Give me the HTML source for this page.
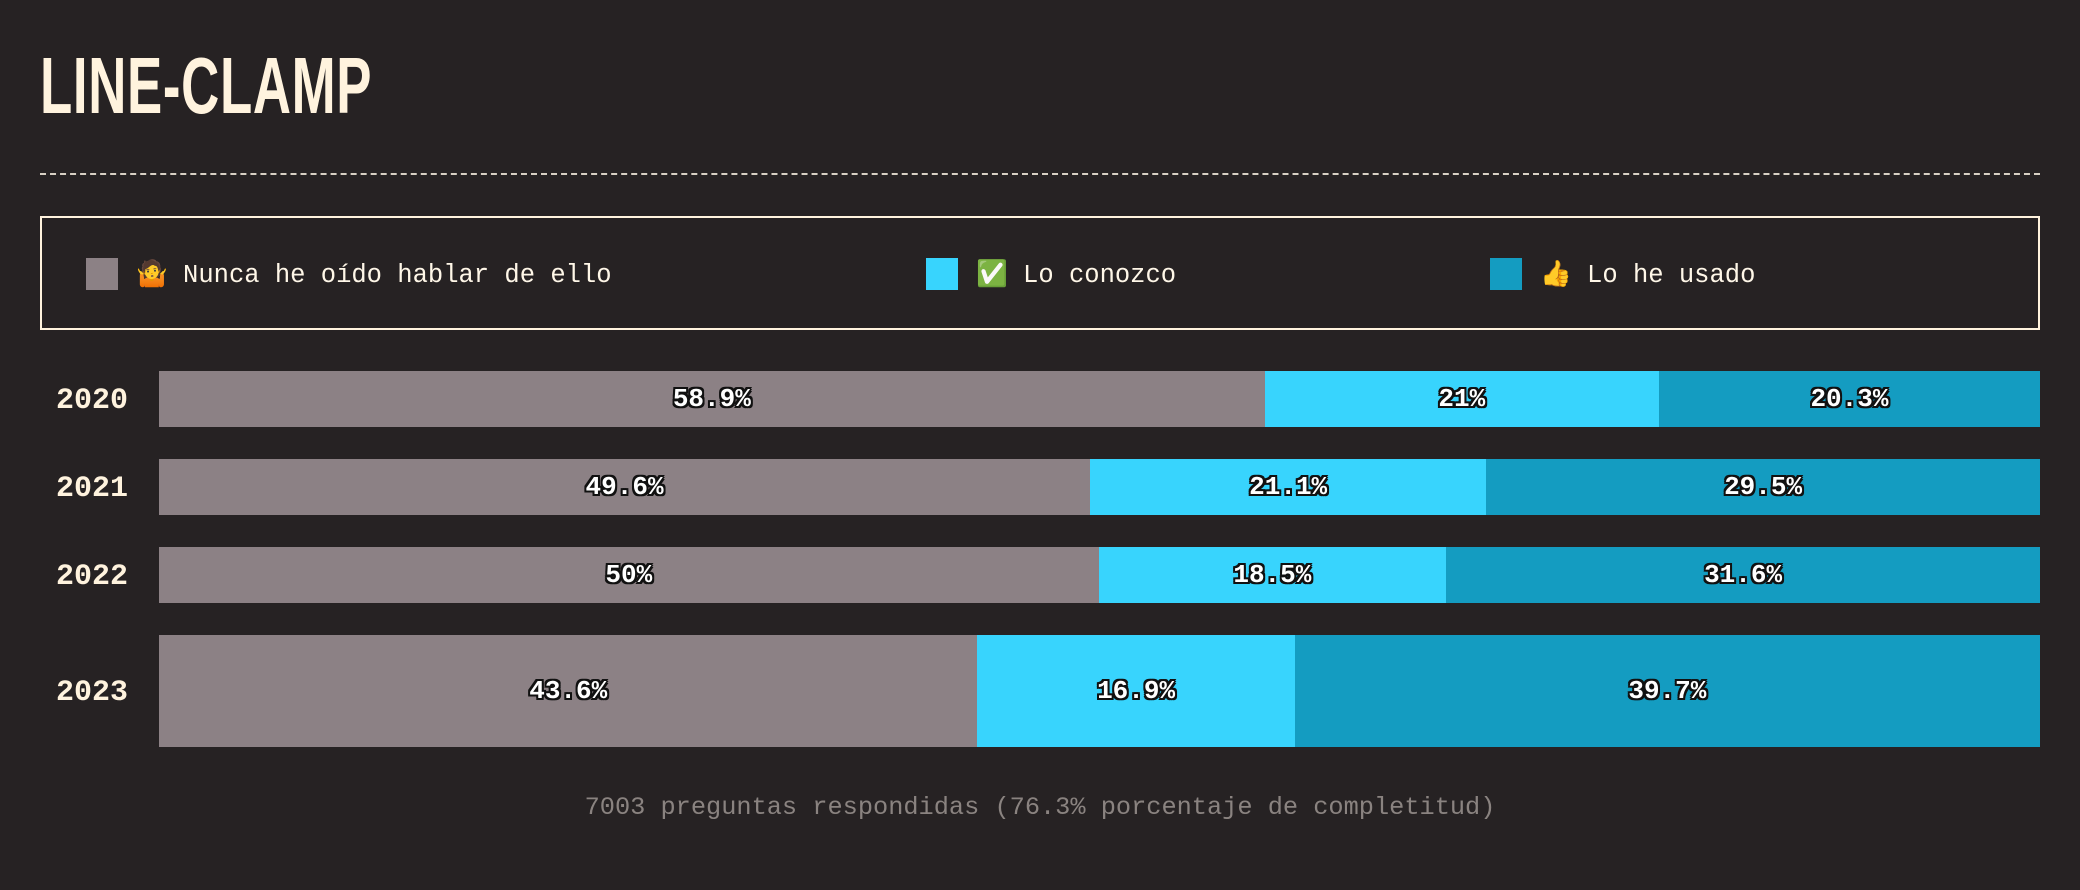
<!DOCTYPE html>
<html><head><meta charset="utf-8"><style>
body{margin:0;width:2080px;height:890px;background:#262223;overflow:hidden;position:relative;font-family:"Liberation Mono",monospace;color:#fff7e8}
#title{position:absolute;left:40px;top:40px;font-family:"Liberation Sans Narrow","Liberation Sans",sans-serif;font-stretch:condensed;font-weight:bold;font-size:80px;letter-spacing:1px;color:#fff3de;transform:scaleX(0.66);transform-origin:left top}
#sep{position:absolute;left:40px;top:173px;width:2000px;border-top:2px dashed #d8d0c4}
#legend{position:absolute;left:40px;top:216px;width:1996px;height:110px;border:2px solid #fff3de}
.li{position:absolute;top:40px;display:flex;align-items:center;font-size:25.5px;white-space:nowrap}
.sw{width:32px;height:32px;margin-right:18px}
.year{position:absolute;left:56px;font-weight:bold;font-size:30px;color:#fff3de}
.seg{position:absolute;display:flex;align-items:center;justify-content:center;font-weight:bold;font-size:26px;color:#fff;text-shadow:-2px -2px 0 #111,2px -2px 0 #111,-2px 2px 0 #111,2px 2px 0 #111,0 2px 0 #111,0 -2px 0 #111,2px 0 0 #111,-2px 0 0 #111}
#foot{position:absolute;left:0;width:2080px;top:793px;text-align:center;font-size:25.3px;color:#8a8380}
</style></head><body>
<div id="title">LINE-CLAMP</div>
<div id="sep"></div>
<div id="legend">
<div class="li" style="left:44px"><div class="sw" style="background:#8c8185"></div>🤷 Nunca he oído hablar de ello</div>
<div class="li" style="left:884px"><div class="sw" style="background:#38d4fd"></div>✅ Lo conozco</div>
<div class="li" style="left:1448px"><div class="sw" style="background:#149cc1"></div>👍 Lo he usado</div>
</div>
<div id="chart"></div>
<div id="foot">7003 preguntas respondidas (76.3% porcentaje de completitud)</div>
<script>
const years=["2020","2021","2022","2023"];
const neverHeard=[58.9,49.6,50,43.6];
const knowIt=[21,21.1,18.5,16.9];
const usedIt=[20.3,29.5,31.6,39.7];
const labelsNever=["58.9%","49.6%","50%","43.6%"];
const labelsKnow=["21%","21.1%","18.5%","16.9%"];
const labelsUsed=["20.3%","29.5%","31.6%","39.7%"];
const colors=["#8c8185","#38d4fd","#149cc1"];
const x0=159,W=1881;
const rows=[[371,56],[459,56],[547,56],[635,112]];
const chart=document.getElementById('chart');
function xs(v,total){return v/total*W;}
years.forEach((y,i)=>{
  const [top,h]=rows[i];
  const yl=document.createElement('div');
  yl.className='year';yl.textContent=y;
  yl.style.top=(top+h/2-15)+'px';
  
  
  chart.appendChild(yl);
  const vals=[neverHeard[i],knowIt[i],usedIt[i]];
  const labs=[labelsNever[i],labelsKnow[i],labelsUsed[i]];
  const total=vals[0]+vals[1]+vals[2];
  let x=x0;
  const names=['never-heard','know-it','used-it'];
  vals.forEach((v,j)=>{
    const w=xs(v,total);
    const s=document.createElement('div');
    s.className='seg';
    s.style.left=x+'px';s.style.top=top+'px';
    s.style.width=(j==2?(x0+W-x):w)+'px';s.style.height=h+'px';
    s.style.background=colors[j];
    s.textContent=labs[j];
    
    
    chart.appendChild(s);
    x+=w;
  });
});
</script>
</body></html>
